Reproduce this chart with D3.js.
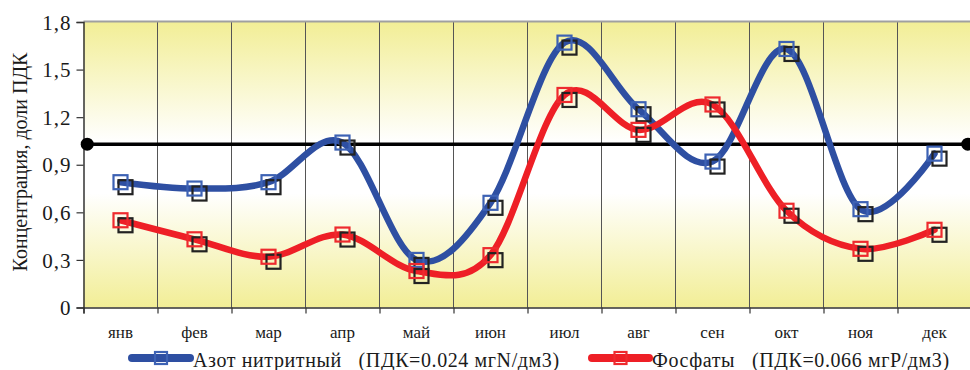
<!DOCTYPE html>
<html>
<head>
<meta charset="utf-8">
<script src="https://cdn.jsdelivr.net/npm/d3@7"></script>
<style>
  html, body { margin: 0; padding: 0; background: #ffffff; }
  svg { display: block; }
</style>
</head>
<body>
<svg id="chart" width="970" height="370"></svg>
<script>
// Monthly concentrations, in fractions of the maximum permissible concentration (ПДК)
const months = ["янв", "фев", "мар", "апр", "май", "июн", "июл", "авг", "сен", "окт", "ноя", "дек"];
const nitrite = [0.79, 0.75, 0.79, 1.04, 0.30, 0.66, 1.67, 1.25, 0.92, 1.63, 0.62, 0.97];
const phosphate = [0.55, 0.43, 0.32, 0.46, 0.23, 0.33, 1.34, 1.12, 1.28, 0.61, 0.37, 0.49];
const limitLevel = 1.03;
const yTicks = [0, 0.3, 0.6, 0.9, 1.2, 1.5, 1.8];
const seriesNames = ["Азот нитритный   (ПДК=0.024 мгN/дм3)", "Фосфаты   (ПДК=0.066 мгР/дм3)"];

const FONT = "'Liberation Serif', 'Times New Roman', serif";
const svg = d3.select("#chart");
const plotLeft = 83.5, plotRight = 971.5, plotTop = 22, plotBottom = 307.5;

const x = d3.scaleLinear().domain([0, months.length]).range([plotLeft, plotRight]);
const y = d3.scaleLinear().domain([0, 1.8]).range([plotBottom, plotTop]);
const fmt = v => v === 0 ? "0" : d3.format(".1f")(v).replace(".", ",");

// Plot background: yellow at the edges fading to white in the middle
const defs = svg.append("defs");
const grad = defs.append("linearGradient").attr("id", "bg").attr("x1", 0).attr("y1", 0).attr("x2", 0).attr("y2", 1);
[[0, "#f2ee96"], [0.42, "#ffffff"], [0.6, "#ffffff"], [1, "#f2ee96"]].forEach(([o, c]) =>
  grad.append("stop").attr("offset", o).attr("stop-color", c));

svg.append("rect").attr("x", plotLeft).attr("y", plotTop)
  .attr("width", plotRight - plotLeft).attr("height", plotBottom - plotTop)
  .attr("fill", "url(#bg)");

// Vertical month separators
svg.append("g").selectAll("line").data(d3.range(1, months.length))
  .join("line")
  .attr("x1", d => x(d)).attr("x2", d => x(d)).attr("y1", plotTop).attr("y2", plotBottom)
  .attr("stroke", "#555").attr("stroke-width", 1);

// Top border
svg.append("line").attr("x1", plotLeft).attr("x2", plotRight).attr("y1", plotTop - 0.5).attr("y2", plotTop - 0.5)
  .attr("stroke", "#a0a0a0").attr("stroke-width", 2);

// Y axis
const yAxis = svg.append("g").attr("transform", `translate(${plotLeft},0)`)
  .call(d3.axisLeft(y).tickValues(yTicks).tickFormat(fmt).tickSize(7).tickPadding(5));
yAxis.attr("font-family", null).attr("font-size", null);
yAxis.select(".domain").attr("stroke", "#333").attr("stroke-width", 1.5);
yAxis.selectAll(".tick line").attr("stroke", "#333").attr("stroke-width", 1.2);
yAxis.selectAll("text")
  .style("font-family", FONT).style("font-size", "21px").style("letter-spacing", "1px")
  .attr("fill", "#1a1a1a").attr("dy", "0.34em");

// X axis with ticks at month boundaries and labels at month centres
const xAxis = svg.append("g").attr("transform", `translate(0,${plotBottom})`)
  .call(d3.axisBottom(x).tickValues(d3.range(0, months.length + 1)).tickFormat("").tickSize(6));
xAxis.select(".domain").attr("stroke", "#333").attr("stroke-width", 1.5);
xAxis.selectAll(".tick line").attr("stroke", "#333").attr("stroke-width", 1.2);

svg.append("g").selectAll("text").data(months).join("text")
  .attr("x", (d, i) => x(i + 0.5)).attr("y", 338)
  .attr("text-anchor", "middle").attr("fill", "#1a1a1a")
  .style("font-family", FONT).style("font-size", "17px")
  .text(d => d);

// Y axis title
svg.append("text")
  .attr("transform", "translate(27,162) rotate(-90)")
  .attr("text-anchor", "middle").attr("fill", "#1a1a1a")
  .style("font-family", FONT).style("font-size", "20px")
  .text("Концентрация, доли ПДК");

// Limit level line with end points
const limitPts = [0.05, months.length - 0.05];
svg.append("line")
  .attr("x1", x(limitPts[0])).attr("x2", x(limitPts[1]))
  .attr("y1", y(limitLevel)).attr("y2", y(limitLevel))
  .attr("stroke", "#000").attr("stroke-width", 3.5);
svg.append("g").selectAll("circle").data(limitPts).join("circle")
  .attr("cx", d => x(d)).attr("cy", y(limitLevel)).attr("r", 6.5).attr("fill", "#000");

// Smoothed series with shadowed square markers
const line = d3.line().x((d, i) => x(i + 0.5)).y(d => y(d)).curve(d3.curveCardinal.tension(0));
const ms = 14;

function drawSeries(values, lineColor, markerColor) {
  const g = svg.append("g");
  g.append("path").datum(values).attr("d", line)
    .attr("fill", "none").attr("stroke", lineColor).attr("stroke-width", 6.5)
    .attr("stroke-linecap", "round").attr("stroke-linejoin", "round");
  g.append("g").selectAll("rect").data(values).join("rect")
    .attr("x", (d, i) => x(i + 0.5) - ms / 2 + 5).attr("y", d => y(d) - ms / 2 + 5)
    .attr("width", ms).attr("height", ms)
    .attr("fill", "none").attr("stroke", "#222").attr("stroke-width", 2.2);
  g.append("g").selectAll("rect").data(values).join("rect")
    .attr("x", (d, i) => x(i + 0.5) - ms / 2).attr("y", d => y(d) - ms / 2)
    .attr("width", ms).attr("height", ms)
    .attr("fill", "none").attr("stroke", markerColor).attr("stroke-width", 2.2);
}
drawSeries(nitrite, "#2e4fa2", "#3d62b4");
drawSeries(phosphate, "#ee1f26", "#ee2a2e");

// Legend
const legend = [
  { name: seriesNames[0], color: "#2e4fa2", marker: "#3d62b4", x0: 132, x1: 190, tx: 193 },
  { name: seriesNames[1], color: "#ee1f26", marker: "#ee2a2e", x0: 592, x1: 649, tx: 652 }
];
const lg = svg.append("g");
legend.forEach(l => {
  lg.append("line").attr("x1", l.x0).attr("x2", l.x1).attr("y1", 358).attr("y2", 358)
    .attr("stroke", l.color).attr("stroke-width", 8).attr("stroke-linecap", "round");
  lg.append("rect").attr("x", (l.x0 + l.x1) / 2 - 6).attr("y", 352).attr("width", 12).attr("height", 12)
    .attr("fill", "none").attr("stroke", l.marker).attr("stroke-width", 2.2);
  lg.append("text").attr("x", l.tx).attr("y", 367).attr("fill", "#1a1a1a")
    .style("font-family", FONT).style("font-size", "20px").style("letter-spacing", "0.6px")
    .style("white-space", "pre").text(l.name);
});
</script>
</body>
</html>
